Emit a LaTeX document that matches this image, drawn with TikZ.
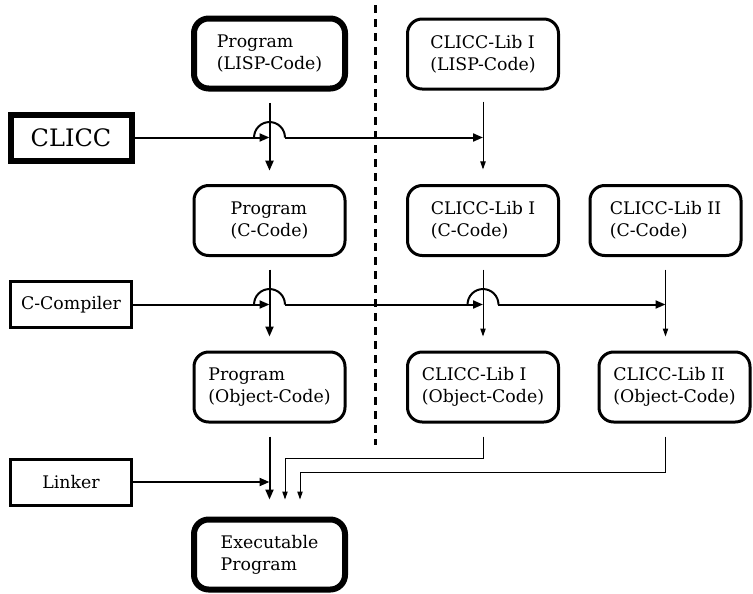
\documentclass[tikz,border=0pt]{standalone}
\usepackage{fontspec}
\setmainfont{DejaVu Serif}
\usetikzlibrary{arrows.meta}
\begin{document}
\begin{tikzpicture}[x=0.75pt,y=-0.75pt,
  txt/.style={font=\fontsize{13}{16.5}\selectfont, align=left},
  rbox/.style={txt, draw, rounded corners=11pt, line width=2.25pt, minimum width=113.25pt, minimum height=52.5pt, inner sep=0pt},
  thickr/.style={rbox, line width=4.5pt},
  sbox/.style={txt, draw, line width=2.25pt, minimum width=90.75pt, minimum height=34.5pt, inner sep=0pt},
  thicks/.style={sbox, line width=4.5pt},
  arrM/.style={line width=1.5pt, -{Triangle[length=7.5pt,width=6pt]}},
  arrT/.style={line width=0.75pt, -{Triangle[length=6pt,width=4pt]}},
  jump/.style={line width=1.5pt},
  divider/.style={line width=2.25pt, dash pattern=on 6pt off 4.5pt}
]
\useasboundingbox (0,0) rectangle (753,593);

% nodes
\node[thickr] (P1) at (269.5,53.5) {Program\\(LISP-Code)};
\node[rbox] (L1) at (483,54) {CLICC-Lib I\\(LISP-Code)};
\node[rbox] (P2) at (269.5,220.5) {Program\\(C-Code)};
\node[rbox] (L2) at (483,220.5) {CLICC-Lib I\\(C-Code)};
\node[rbox] (M2) at (665.5,220.5) {CLICC-Lib II\\(C-Code)};
\node[rbox] (P3) at (269.5,387) {Program\\(Object-Code)};
\node[rbox] (L3) at (483,387) {CLICC-Lib I\\(Object-Code)};
\node[rbox] (M3) at (674.5,387) {CLICC-Lib II\\(Object-Code)};
\node[thickr] (E) at (269.5,554.5) {Executable\\Program};
\node[thicks, font=\fontsize{18}{20}\selectfont] (CL) at (71,137.5) {CLICC};
\node[sbox] (CC) at (71,304.5) {C-Compiler};
\node[sbox] (LK) at (71,482) {Linker};

% divider
\coordinate (d1) at (375,5);
\coordinate (d2) at (375,445);
\draw[divider] (d1) -- (d2);

% vertical flows
\draw[arrM, shorten <=8.5pt, shorten >=10pt] (P1.south) -- (P2.north);
\draw[arrT, shorten <=8.25pt, shorten >=10.9pt] (L1.south) -- (L2.north);
\draw[arrM, shorten <=9.4pt, shorten >=10.5pt] (P2.south) -- (P3.north);
\draw[arrT, shorten <=9.4pt, shorten >=10.5pt] (L2.south) -- (L3.north);
\draw[arrT, shorten <=9.4pt, shorten >=10.5pt] (M2.south) -- (M2.south |- M3.north);

% CLICC line with jump
\coordinate (x1) at (P1.south |- CL.east);
\coordinate (x1r) at (L1.south |- CL.east);
\draw[arrM] (CL.east) -- (x1);
\draw[jump] ([xshift=-11.6pt]x1) arc[start angle=180,end angle=0,radius=11.6pt];
\draw[arrM] ([xshift=11.6pt]x1) -- (x1r);

% C-Compiler line with jumps
\coordinate (y1) at (P2.south |- CC.east);
\coordinate (y2) at (L2.south |- CC.east);
\coordinate (y3) at (M2.south |- CC.east);
\draw[arrM] (CC.east) -- (y1);
\draw[jump] ([xshift=-11.6pt]y1) arc[start angle=180,end angle=0,radius=11.6pt];
\draw[arrM] ([xshift=11.6pt]y1) -- (y2);
\draw[jump] ([xshift=-11.6pt]y2) arc[start angle=180,end angle=0,radius=11.6pt];
\draw[arrM] ([xshift=11.6pt]y2) -- (y3);

% Linker and objects to executable
\draw[arrM] (LK.east) -- (P3.south |- LK.east);
\draw[arrM, shorten <=9.75pt, shorten >=12.75pt] (P3.south) -- (E.north);
\coordinate (b1) at (285,458);
\draw[arrT, shorten <=9.75pt, shorten >=12.75pt] (L3.south) |- (b1) -- (b1 |- E.north);
\coordinate (m3b) at (M2.south |- M3.south);
\coordinate (b2) at (300,472);
\draw[arrT, shorten <=9.75pt, shorten >=12.75pt] (m3b) |- (b2) -- (b2 |- E.north);
\end{tikzpicture}
\end{document}
